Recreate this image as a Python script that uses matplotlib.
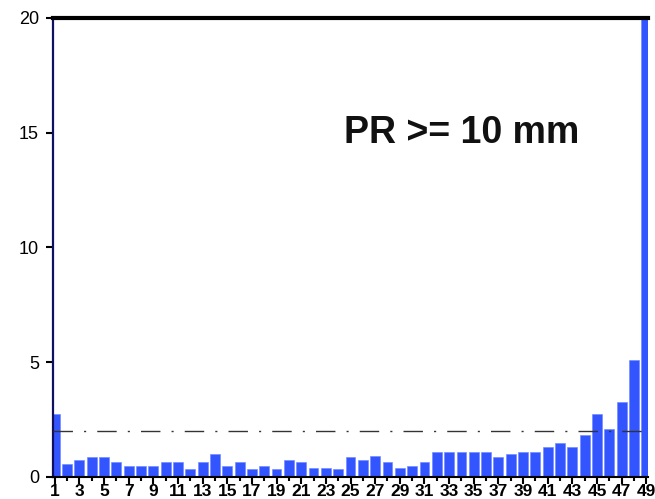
import matplotlib
matplotlib.use("Agg")
import matplotlib.pyplot as plt
from matplotlib.ticker import FixedLocator

categories = list(range(1, 50))
values = [2.76, 0.55, 0.76, 0.86, 0.86, 0.67, 0.48, 0.48, 0.48, 0.67,
          0.67, 0.34, 0.67, 1.02, 0.48, 0.67, 0.34, 0.48, 0.34, 0.76,
          0.67, 0.41, 0.41, 0.34, 0.86, 0.76, 0.93, 0.67, 0.41, 0.48,
          0.67, 1.09, 1.09, 1.09, 1.09, 1.09, 0.86, 1.00, 1.09, 1.09,
          1.31, 1.47, 1.31, 1.83, 2.76, 2.11, 3.28, 5.08, 20.0]
threshold = 2.0
x_tick_labels = [str(i) for i in range(1, 50, 2)]
y_ticks = [0, 5, 10, 15, 20]
title_text = "PR >= 10 mm"

plt.rcParams['font.family'] = ['Liberation Sans', 'DejaVu Sans']

fig = plt.figure(figsize=(6.55, 4.99), dpi=100)
ax = fig.add_axes([0.0809, 0.0441, 0.9081, 0.9199])

ax.bar(categories, values, width=0.8, color='#3355ff', edgecolor='#6a84ff',
       linewidth=0.4, zorder=2)
ax.axhline(threshold, color='#333333', linewidth=1.0,
           linestyle=(0, (14, 8, 1.5, 8)), zorder=3)

ax.set_xlim(0.86, 49.12)
ax.set_ylim(0, 20)

ax.xaxis.set_major_locator(FixedLocator(list(range(1, 50, 2))))
ax.xaxis.set_minor_locator(FixedLocator(list(range(1, 50))))
ax.set_xticklabels(x_tick_labels, fontweight='bold', fontsize=12.5)
ax.set_yticks(y_ticks)
ax.set_yticklabels([str(v) for v in y_ticks], fontsize=13)

ax.tick_params(axis='x', which='major', length=5, width=1.5, pad=0, color='black')
ax.tick_params(axis='x', which='minor', length=3, width=1.5, color='black')
ax.tick_params(axis='y', which='major', length=5, width=1.5, pad=5, color='black')

ax.spines['right'].set_visible(False)
ax.spines['top'].set_linewidth(3)
ax.spines['top'].set_color('black')
ax.spines['left'].set_linewidth(1.6)
ax.spines['left'].set_color('#101060')
ax.spines['bottom'].set_linewidth(1.5)
ax.spines['bottom'].set_color('black')
ax.spines['bottom'].set_zorder(4)

ax.text(34, 15, title_text, fontsize=27, fontweight='bold', ha='center',
        va='center', color='#111111')

fig.savefig("out.png", dpi=100)
